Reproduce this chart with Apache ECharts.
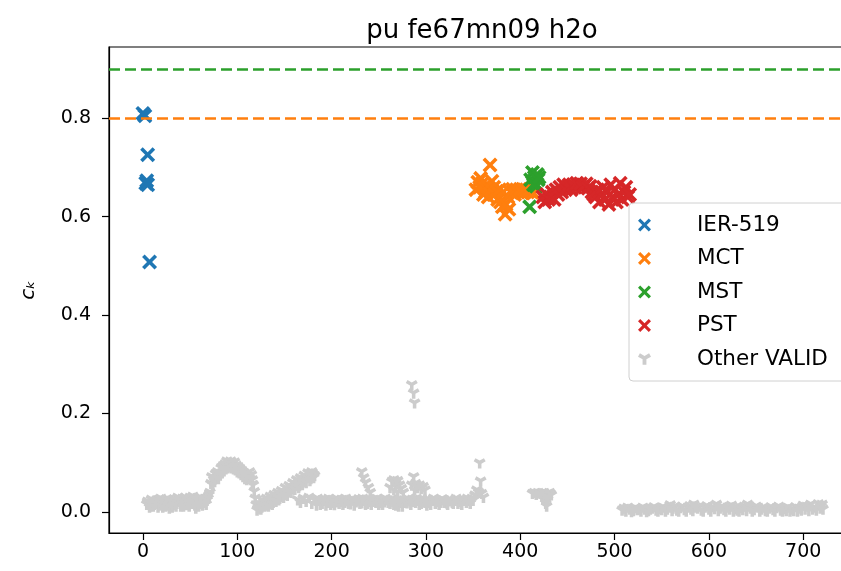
<!DOCTYPE html>
<html>
<head>
<meta charset="utf-8">
<script src="https://cdn.jsdelivr.net/npm/echarts@6.0.0/dist/echarts.min.js"></script>
<style>
  html, body { margin: 0; padding: 0; background: #fff; }
  #chart { width: 841px; height: 571px; }
</style>
</head>
<body>
<div id="chart"></div>
<script>
// tick values
const xTicks = [0, 100, 200, 300, 400, 500, 600, 700]
const yTicks = [0, 0.2, 0.4, 0.6, 0.8]

// reference levels
const mstLevel = 0.9
const mctLevel = 0.8

// [index, ck] pairs
const ier519 = [[0, 0.81], [2, 0.805], [5, 0.726], [3, 0.668], [4, 0.673], [5, 0.665], [7, 0.508]]

const mct = [
  [353, 0.655], [355, 0.67], [357, 0.66], [358, 0.678], [360, 0.668], [361, 0.645], [362, 0.66],
  [363, 0.65], [365, 0.662], [366, 0.64], [368, 0.705], [369, 0.655], [370, 0.672], [372, 0.66],
  [373, 0.645], [375, 0.652], [376, 0.635], [378, 0.655], [379, 0.63], [381, 0.62], [382, 0.65],
  [384, 0.605], [385, 0.625], [387, 0.64], [388, 0.615], [390, 0.65], [392, 0.656], [394, 0.645],
  [396, 0.655], [398, 0.65], [400, 0.656], [402, 0.648], [404, 0.655], [406, 0.652], [408, 0.65],
  [410, 0.655], [412, 0.65], [414, 0.648]
]

const mst = [
  [411, 0.675], [413, 0.69], [415, 0.68], [416, 0.668], [418, 0.686], [419, 0.675],
  [417, 0.662], [414, 0.665], [420, 0.68], [410, 0.62]
]

const pst = [
  [424, 0.64], [426, 0.63], [428, 0.645], [430, 0.635], [432, 0.64], [434, 0.65], [436, 0.635],
  [438, 0.655], [440, 0.645], [442, 0.66], [444, 0.65], [446, 0.665], [448, 0.655], [450, 0.66],
  [452, 0.665], [454, 0.655], [456, 0.665], [458, 0.66], [460, 0.668], [462, 0.662], [464, 0.667],
  [466, 0.66], [468, 0.663], [470, 0.667], [472, 0.658], [474, 0.662], [476, 0.65], [478, 0.645],
  [480, 0.64], [482, 0.655], [484, 0.63], [486, 0.645], [488, 0.66], [490, 0.635], [492, 0.65],
  [494, 0.625], [496, 0.665], [498, 0.64], [500, 0.655], [502, 0.63], [504, 0.645], [506, 0.668],
  [508, 0.635], [510, 0.65], [512, 0.66], [514, 0.64], [516, 0.645]
]

const otherValid = [
  // start band
  [4, 0.016], [6, 0.018], [8, 0.012], [10, 0.02], [12, 0.016], [14, 0.022], [16, 0.01], [18, 0.018],
  [20, 0.015], [22, 0.024], [24, 0.012], [26, 0.019], [28, 0.008], [30, 0.02], [32, 0.016],
  [34, 0.026], [36, 0.018], [38, 0.022], [40, 0.012], [42, 0.028], [44, 0.02], [46, 0.015],
  [48, 0.025], [50, 0.03], [52, 0.018], [54, 0.024], [56, 0.008], [58, 0.02], [60, 0.026],
  [62, 0.018], [64, 0.022], [66, 0.028], [68, 0.024], [70, 0.035],
  [5, 0.022], [7, 0.01], [9, 0.026], [11, 0.012], [13, 0.018], [15, 0.025], [17, 0.014], [19, 0.028],
  [21, 0.01], [23, 0.02], [25, 0.027], [27, 0.014], [29, 0.024], [31, 0.01], [33, 0.02], [35, 0.012],
  [37, 0.03], [39, 0.024], [41, 0.016], [43, 0.012], [45, 0.03], [47, 0.022], [49, 0.012], [51, 0.02],
  [53, 0.032], [55, 0.014], [57, 0.026], [59, 0.012], [61, 0.03], [63, 0.014], [65, 0.02], [67, 0.016],
  [69, 0.028],
  // hump near 100
  [71, 0.04], [72, 0.058], [73, 0.072], [75, 0.066], [77, 0.078], [79, 0.082], [81, 0.078],
  [83, 0.09], [85, 0.094], [87, 0.098], [89, 0.104], [91, 0.1], [93, 0.104], [95, 0.098],
  [97, 0.102], [99, 0.095], [101, 0.092], [103, 0.088], [105, 0.084], [107, 0.08], [109, 0.076],
  [111, 0.072], [113, 0.082], [115, 0.076], [116, 0.066], [117, 0.055], [118, 0.042],
  [119, 0.028], [120, 0.015], [121, 0.004],
  [74, 0.055], [76, 0.062], [78, 0.07], [80, 0.068], [82, 0.075], [84, 0.08], [86, 0.084], [88, 0.088],
  [90, 0.09], [92, 0.092], [94, 0.09], [96, 0.088], [98, 0.086], [100, 0.082], [102, 0.08],
  [104, 0.076], [106, 0.072], [108, 0.068], [110, 0.066], [112, 0.07], [114, 0.066], [116, 0.056],
  // rise to 180
  [122, 0.008], [124, 0.015], [126, 0.01], [128, 0.02], [130, 0.014], [132, 0.022], [134, 0.018],
  [136, 0.026], [138, 0.02], [140, 0.028], [142, 0.03], [144, 0.025], [146, 0.035], [148, 0.032],
  [150, 0.04], [152, 0.036], [154, 0.045], [156, 0.042], [158, 0.05], [160, 0.048], [162, 0.055],
  [164, 0.058], [166, 0.054], [168, 0.062], [170, 0.066], [172, 0.062], [174, 0.07], [176, 0.072],
  [178, 0.068], [180, 0.078], [182, 0.074],
  [123, 0.018], [125, 0.006], [127, 0.024], [129, 0.012], [131, 0.028], [133, 0.012], [135, 0.032],
  [137, 0.016], [139, 0.036], [141, 0.022], [143, 0.04], [145, 0.028], [147, 0.044], [149, 0.03],
  [151, 0.05], [153, 0.034], [155, 0.054], [157, 0.04], [159, 0.06], [161, 0.046], [163, 0.066],
  [165, 0.05], [167, 0.07], [169, 0.056], [171, 0.075], [173, 0.06], [175, 0.08], [177, 0.064],
  [179, 0.082], [181, 0.07],
  [164, 0.025], [167, 0.02], [170, 0.028], [173, 0.022], [176, 0.03], [179, 0.018], [182, 0.025],
  // flat band
  [184, 0.014], [187, 0.024], [190, 0.018], [193, 0.026], [196, 0.02], [199, 0.016], [202, 0.025],
  [205, 0.021], [208, 0.018], [211, 0.026], [214, 0.02], [217, 0.023], [220, 0.017], [223, 0.025],
  [226, 0.021], [229, 0.027], [232, 0.019], [235, 0.024], [238, 0.018], [241, 0.022], [244, 0.026],
  [247, 0.02], [250, 0.016], [253, 0.024], [256, 0.021], [259, 0.025], [262, 0.018], [265, 0.022],
  [268, 0.014], [271, 0.012], [274, 0.02], [277, 0.025], [280, 0.019], [283, 0.023], [286, 0.026],
  [289, 0.02], [292, 0.024], [295, 0.018], [298, 0.022], [301, 0.014], [304, 0.02], [307, 0.024],
  [310, 0.018], [313, 0.022], [316, 0.02], [319, 0.025], [322, 0.019], [325, 0.023], [328, 0.02],
  [331, 0.024], [334, 0.018], [337, 0.022], [340, 0.026], [343, 0.02], [346, 0.024], [349, 0.028],
  [185, 0.028], [188, 0.016], [191, 0.024], [194, 0.014], [197, 0.028], [200, 0.02], [203, 0.015],
  [206, 0.027], [209, 0.022], [212, 0.016], [215, 0.028], [218, 0.018], [221, 0.026], [224, 0.014],
  [227, 0.024], [230, 0.018], [233, 0.028], [236, 0.016], [239, 0.026], [242, 0.016], [245, 0.022],
  [248, 0.028], [251, 0.02], [254, 0.016], [257, 0.028], [260, 0.02], [263, 0.026], [266, 0.016],
  [269, 0.022], [272, 0.026], [275, 0.012], [278, 0.02], [281, 0.027], [284, 0.016], [287, 0.022],
  [290, 0.028], [293, 0.016], [296, 0.026], [299, 0.02], [302, 0.026], [305, 0.016], [308, 0.028],
  [311, 0.022], [314, 0.016], [317, 0.027], [320, 0.02], [323, 0.016], [326, 0.026], [329, 0.018],
  [332, 0.028], [335, 0.022], [338, 0.016], [341, 0.024], [344, 0.028], [347, 0.018], [350, 0.024],
  // small spikes on the band
  [232, 0.082], [234, 0.07], [236, 0.06], [239, 0.05], [241, 0.04],
  [262, 0.05], [264, 0.062], [266, 0.066], [268, 0.058], [270, 0.064], [272, 0.055], [274, 0.048],
  [276, 0.04], [266, 0.045], [270, 0.04],
  [287, 0.072], [285, 0.055], [289, 0.058], [291, 0.05], [293, 0.055], [295, 0.048], [297, 0.052],
  [299, 0.045], [288, 0.045],
  [285, 0.259], [287, 0.242], [288, 0.222],
  [352, 0.035], [354, 0.045], [356, 0.04], [357, 0.1], [358, 0.063], [359, 0.038], [361, 0.03],
  // cluster after 400
  [413, 0.038], [415, 0.04], [417, 0.036], [419, 0.04], [421, 0.038], [423, 0.034], [425, 0.04],
  [427, 0.036], [429, 0.038], [431, 0.04], [433, 0.035], [424, 0.028], [426, 0.024], [427, 0.018],
  [428, 0.012], [429, 0.026],
  // end band
  [508, 0.004], [512, 0.002], [516, 0.006], [520, 0.003], [524, 0.005], [528, 0.002], [532, 0.006],
  [536, 0.003], [540, 0.008], [544, 0.004], [548, 0.007], [552, 0.01], [556, 0.006], [559, 0.015],
  [562, 0.008], [566, 0.004], [570, 0.009], [574, 0.005], [578, 0.01], [581, 0.006], [584, 0.016],
  [588, 0.008], [592, 0.004], [596, 0.01], [600, 0.006], [604, 0.011], [608, 0.016], [612, 0.008],
  [616, 0.005], [620, 0.01], [624, 0.014], [627, 0.007], [630, 0.004], [634, 0.009], [638, 0.012],
  [641, 0.016], [644, 0.008], [648, 0.005], [652, 0.01], [656, 0.006], [660, 0.003], [664, 0.008],
  [668, 0.005], [672, 0.009], [676, 0.004], [680, 0.007], [684, 0.01], [688, 0.006], [692, 0.011],
  [696, 0.008], [700, 0.014], [704, 0.012], [708, 0.016], [712, 0.01], [716, 0.017], [719, 0.012],
  [721, 0.006],
  [510, 0.008], [514, 0.01], [518, 0.001], [522, 0.009], [526, 0.006], [530, 0.01], [534, 0.001],
  [538, 0.006], [542, 0.011], [546, 0.002], [550, 0.005], [554, 0.002], [558, 0.01], [561, 0.003],
  [564, 0.012], [568, 0.002], [572, 0.012], [576, 0.002], [580, 0.013], [583, 0.003], [586, 0.01],
  [590, 0.012], [594, 0.002], [598, 0.013], [602, 0.002], [606, 0.007], [610, 0.003], [614, 0.012],
  [618, 0.002], [622, 0.006], [626, 0.002], [629, 0.011], [632, 0.002], [636, 0.005], [640, 0.003],
  [643, 0.012], [646, 0.002], [650, 0.012], [654, 0.002], [658, 0.01], [662, 0.002], [666, 0.011],
  [670, 0.002], [674, 0.012], [678, 0.002], [682, 0.003], [686, 0.002], [690, 0.003], [694, 0.002],
  [698, 0.004], [702, 0.006], [706, 0.003], [710, 0.006], [714, 0.004], [718, 0.008], [720, 0.016]
]

const seriesNames = ['IER-519', 'MCT', 'MST', 'PST', 'Other VALID']
const colors = ['#1f77b4', '#ff7f0e', '#2ca02c', '#d62728', '#cccccc']

// marker shapes
const xMark = 'path://M0,1.7L1.7,0L5,3.3L8.3,0L10,1.7L6.7,5L10,8.3L8.3,10L5,6.7L1.7,10L0,8.3L3.3,5Z'
const triDown = 'path://M-3,10L3,10L3,1.73L10.16,-2.4L7.16,-7.6L0,-3.47L-7.16,-7.6L-10.16,-2.4L-3,1.73Z'

const font = 'DejaVu Sans'

function crossSeries (name, data, color) {
  return {
    name: name,
    type: 'scatter',
    data: data,
    symbol: xMark,
    symbolSize: 15,
    itemStyle: { color: color, opacity: 1 },
    z: 3
  }
}

const chart = echarts.init(document.getElementById('chart'), null, { renderer: 'canvas' })

chart.setOption({
  animation: false,
  backgroundColor: '#fff',
  graphic: [{
    type: 'text',
    x: 482,
    y: 31,
    style: {
      text: 'pu fe67mn09 h2o',
      fontFamily: font,
      fontSize: 26,
      fill: '#000',
      align: 'center',
      verticalAlign: 'middle'
    }
  }],
  grid: {
    left: 109,
    top: 47,
    width: 747,
    bottom: 38,
    outerBoundsMode: 'none',
    show: true,
    borderColor: '#000',
    borderWidth: 1.2,
    backgroundColor: 'transparent'
  },
  legend: {
    orient: 'vertical',
    left: 629,
    top: 203,
    data: seriesNames.map((n, i) => ({ name: n, icon: i < 4 ? xMark : triDown })),
    itemWidth: 13,
    itemHeight: 13,
    itemGap: 11.5,
    padding: [11, 24, 11, 9],
    backgroundColor: 'rgba(255,255,255,0.8)',
    borderColor: '#d0d0d0',
    borderWidth: 1,
    borderRadius: 4,
    textStyle: { fontFamily: font, fontSize: 21.5, color: '#000', padding: [0, 0, 0, 41] },
    z: 10
  },
  xAxis: {
    type: 'value',
    min: -36,
    max: 756,
    splitLine: { show: false },
    axisLine: { show: true, onZero: false, lineStyle: { color: '#000', width: 1.2 } },
    axisTick: { show: true, length: 7, customValues: xTicks, lineStyle: { color: '#000', width: 1.2 } },
    axisLabel: { customValues: xTicks, margin: 10, fontFamily: font, fontSize: 19, color: '#000' }
  },
  yAxis: {
    type: 'value',
    min: -0.043,
    max: 0.945,
    name: 'cₖ',
    nameLocation: 'middle',
    nameRotate: 90,
    nameGap: 70,
    nameTextStyle: { fontFamily: font, fontSize: 20, fontStyle: 'italic', color: '#000' },
    splitLine: { show: false },
    axisLine: { show: true, onZero: false, lineStyle: { color: '#000', width: 1.2 } },
    axisTick: { show: true, length: 7, customValues: yTicks, lineStyle: { color: '#000', width: 1.2 } },
    axisLabel: {
      customValues: yTicks,
      margin: 18,
      fontFamily: font,
      fontSize: 19,
      color: '#000',
      formatter: v => v.toFixed(1)
    }
  },
  series: [
    {
      name: 'levels',
      type: 'line',
      data: [],
      z: 1,
      markLine: {
        silent: true,
        symbol: 'none',
        label: { show: false },
        animation: false,
        data: [
          { yAxis: mstLevel, lineStyle: { color: colors[2], type: [11, 5], width: 2.6 } },
          { yAxis: mctLevel, lineStyle: { color: colors[1], type: [11, 5], width: 2.6 } }
        ]
      }
    },
    crossSeries(seriesNames[0], ier519, colors[0]),
    crossSeries(seriesNames[1], mct, colors[1]),
    crossSeries(seriesNames[2], mst, colors[2]),
    crossSeries(seriesNames[3], pst, colors[3]),
    {
      name: seriesNames[4],
      type: 'scatter',
      data: otherValid,
      symbol: triDown,
      symbolSize: [12, 10.4],
      symbolOffset: [0, 0.7],
      itemStyle: { color: colors[4], opacity: 1 },
      z: 3
    }
  ]
})
</script>
</body>
</html>
